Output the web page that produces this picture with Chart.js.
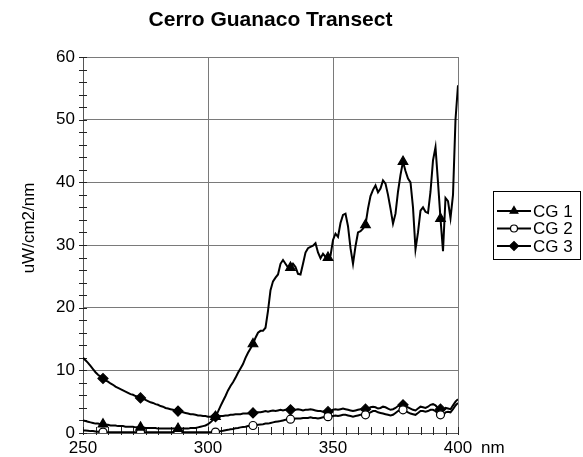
<!DOCTYPE html>
<html>
<head>
<meta charset="utf-8">
<script src="https://cdn.jsdelivr.net/npm/chart.js@4.4.0/dist/chart.umd.min.js"></script>
<style>
  html, body { margin: 0; padding: 0; background: #fff; }
  #wrap { width: 583px; height: 457px; }
</style>
</head>
<body>
<div id="wrap"><canvas id="c" width="583" height="457"></canvas></div>
<script>
// Cerro Guanaco Transect — irradiancia espectral, uW/cm2/nm, 250..400 nm cada 1 nm
const wavelengths = Array.from({ length: 151 }, (_, i) => 250 + i);

const cg1 = [
  2.0, 1.9, 1.8, 1.7, 1.6, 1.5, 1.5, 1.4, 1.4, 1.3,
  1.3, 1.2, 1.2, 1.2, 1.1, 1.1, 1.1, 1.0, 1.0, 1.0,
  1.0, 0.9, 0.9, 0.9, 0.9, 0.8, 0.8, 0.8, 0.8, 0.8,
  0.7, 0.7, 0.7, 0.7, 0.7, 0.7, 0.7, 0.7, 0.7, 0.7,
  0.7, 0.7, 0.7, 0.8, 0.8, 0.8, 0.9, 1.0, 1.1, 1.2,
  1.4, 1.7, 2.1, 2.6, 3.4, 4.3, 5.1, 5.9, 6.8, 7.5,
  8.1, 8.8, 9.6, 10.3, 11.0, 12.0, 12.8, 13.5, 14.2, 15.2,
  16.0, 16.3, 16.3, 16.8, 19.5, 22.8, 24.2, 24.8, 25.3, 27.0,
  27.6, 27.0, 26.4, 26.4, 27.0, 26.5, 25.4, 25.3, 27.0, 28.8,
  29.5, 29.7, 29.9, 30.3, 28.8, 27.9, 28.6, 28.1, 28.0, 28.3,
  30.8, 31.8, 31.3, 33.5, 34.8, 35.0, 33.0, 29.5, 27.0, 29.8,
  32.0, 32.2, 32.6, 33.2, 35.8, 37.8, 38.8, 39.5, 38.4, 39.0,
  40.3, 39.8, 38.0, 35.8, 33.4, 35.0, 38.5, 41.2, 43.3, 41.8,
  40.6, 40.0, 36.0, 29.3, 32.0, 35.5, 36.0, 35.3, 35.1, 38.5,
  43.5, 45.6, 40.0, 34.2, 29.0, 37.5, 37.0, 34.3, 38.0, 50.0,
  55.5
];

const cg2 = [
  0.4, 0.4, 0.35, 0.3, 0.3, 0.25, 0.2, 0.2, 0.15, 0.15,
  0.1, 0.1, 0.1, 0.1, 0.1, 0.1, 0.1, 0.1, 0.1, 0.1,
  0.1, 0.1, 0.1, 0.1, 0.1, 0.1, 0.1, 0.1, 0.1, 0.1,
  0.1, 0.1, 0.1, 0.1, 0.1, 0.1, 0.1, 0.1, 0.1, 0.1,
  0.1, 0.1, 0.1, 0.1, 0.1, 0.1, 0.1, 0.1, 0.1, 0.1,
  0.1, 0.1, 0.1, 0.15, 0.2, 0.3, 0.35, 0.45, 0.5, 0.6,
  0.65, 0.75, 0.8, 0.9, 0.95, 1.0, 1.1, 1.15, 1.2, 1.25,
  1.3, 1.35, 1.4, 1.5, 1.5, 1.6, 1.7, 1.8, 1.85, 1.9,
  2.0, 2.1, 2.15, 2.2, 2.2, 2.3, 2.3, 2.3, 2.4, 2.4,
  2.4, 2.5, 2.4, 2.4, 2.3, 2.4, 2.5, 2.5, 2.6, 2.6,
  2.7, 2.8, 2.7, 2.8, 2.9, 2.9, 2.8, 2.7, 2.6, 2.7,
  2.8, 2.9, 2.9, 2.9, 3.1, 3.3, 3.5, 3.5, 3.3, 3.2,
  3.1, 3.0, 2.9, 2.8, 2.9, 3.2, 3.5, 3.7, 3.7, 3.5,
  3.3, 3.1, 3.0, 2.9, 3.2, 3.5, 3.5, 3.4, 3.5, 3.7,
  3.7, 3.5, 3.1, 2.9, 2.8, 3.3, 3.4, 3.3, 3.8, 4.4,
  4.8
];

const cg3 = [
  12.0, 11.6, 11.2, 10.7, 10.2, 9.7, 9.3, 9.0, 8.7, 8.4,
  8.2, 7.9, 7.7, 7.4, 7.2, 7.0, 6.8, 6.6, 6.4, 6.2,
  6.1, 5.9, 5.8, 5.6, 5.5, 5.3, 5.1, 4.9, 4.8, 4.6,
  4.5, 4.3, 4.2, 4.0, 3.9, 3.8, 3.7, 3.6, 3.5, 3.4,
  3.3, 3.2, 3.1, 3.0, 3.0, 2.9, 2.8, 2.8, 2.7, 2.7,
  2.6, 2.6, 2.6, 2.6, 2.6, 2.7, 2.7, 2.8, 2.8, 2.9,
  2.9, 3.0, 3.0, 3.0, 3.1, 3.1, 3.1, 3.2, 3.2, 3.3,
  3.3, 3.3, 3.4, 3.5, 3.4, 3.5, 3.6, 3.5, 3.6, 3.7,
  3.6, 3.7, 3.7, 3.7, 3.6, 3.7, 3.8, 3.7, 3.6, 3.7,
  3.7, 3.8, 3.7, 3.6, 3.5, 3.5, 3.4, 3.5, 3.4, 3.5,
  3.7, 3.8, 3.7, 3.8, 3.9, 3.8, 3.7, 3.6, 3.5, 3.6,
  3.7, 3.8, 3.8, 3.8, 3.9, 4.1, 4.2, 4.1, 3.9, 4.0,
  4.2, 4.1, 3.9, 3.7, 3.8, 4.0, 4.3, 4.5, 4.5, 4.3,
  4.1, 3.9, 3.7, 3.6, 3.9, 4.2, 4.1, 4.0, 4.2, 4.5,
  4.6, 4.4, 4.0, 3.8, 3.6, 4.0, 3.9, 3.8, 4.4, 5.0,
  5.4
];

// longitudes de onda donde van los marcadores
const markerWl = [258, 273, 288, 303, 318, 333, 348, 363, 378, 393];
const seriesNames = ['CG 1', 'CG 2', 'CG 3'];
const xTicks = [250, 300, 350, 400];
const yTicks = [0, 10, 20, 30, 40, 50, 60];

const FONT = 'Liberation Sans, Arial, Helvetica, sans-serif';

function toPoints(values) {
  return values.map((v, i) => ({ x: wavelengths[i], y: v }));
}

function markerRadius(r) {
  return (ctx) => (markerWl.includes(wavelengths[ctx.dataIndex]) ? r : 0);
}

function makeSet(label, values, style, fill, r) {
  return {
    label,
    data: toPoints(values),
    borderColor: '#000',
    borderWidth: 2,
    tension: 0,
    pointStyle: style,
    pointRadius: markerRadius(r),
    pointHoverRadius: 0,
    pointBackgroundColor: fill,
    pointBorderColor: '#000',
    pointBorderWidth: 1.2
  };
}

// ---------- decoraciones: título, etiqueta Y, ticks menores, leyenda ----------
const decor = {
  id: 'decor',
  beforeDatasetsDraw(chart) {
    const { ctx, chartArea: a, scales } = chart;
    ctx.save();
    ctx.strokeStyle = '#222';
    ctx.lineWidth = 1;
    ctx.beginPath();
    for (let v = 0; v <= 60; v += 2) {
      const y = Math.round(scales.y.getPixelForValue(v)) + 0.5;
      ctx.moveTo(a.left - 4, y);
      ctx.lineTo(a.left + 4, y);
    }
    for (let w = 250; w <= 400; w += 5) {
      const x = Math.round(scales.x.getPixelForValue(w)) + 0.5;
      ctx.moveTo(x, a.bottom + 2);
      ctx.lineTo(x, a.bottom - 6);
    }
    ctx.stroke();
    ctx.restore();
  },
  afterDraw(chart) {
    const { ctx, chartArea: a } = chart;
    ctx.save();
    ctx.fillStyle = '#000';

    ctx.font = 'bold 21px ' + FONT;
    ctx.textAlign = 'center';
    ctx.textBaseline = 'middle';
    ctx.fillText('Cerro Guanaco Transect', (a.left + a.right) / 2, 20);

    ctx.font = '17px ' + FONT;
    ctx.textAlign = 'left';
    ctx.fillText('nm', 481, 448);

    ctx.save();
    ctx.translate(29, 228);
    ctx.rotate(-Math.PI / 2);
    ctx.textAlign = 'center';
    ctx.fillText('uW/cm2/nm', 0, 0);
    ctx.restore();

    // leyenda
    const bx = 493.5, by = 191.5, bw = 87, bh = 68;
    ctx.strokeStyle = '#000';
    ctx.lineWidth = 1;
    ctx.strokeRect(bx, by, bw, bh);
    chart.data.datasets.forEach((ds, i) => {
      const y = 211 + i * 17.5;
      ctx.strokeStyle = '#000';
      ctx.lineWidth = 2;
      ctx.beginPath();
      ctx.moveTo(497, y);
      ctx.lineTo(531, y);
      ctx.stroke();
      ctx.fillStyle = ds.pointBackgroundColor;
      ctx.lineWidth = 1.2;
      Chart.helpers.drawPoint(ctx, {
        pointStyle: ds.pointStyle,
        radius: ds.pointStyle === 'circle' ? 3.5 : 4.5,
        rotation: 0,
        borderWidth: 1.2
      }, 514, y);
      ctx.fillStyle = '#000';
      ctx.textAlign = 'left';
      ctx.textBaseline = 'middle';
      ctx.font = '17px ' + FONT;
      ctx.fillText(seriesNames[i], 533, y + 1);
    });
    ctx.restore();
  }
};

new Chart(document.getElementById('c'), {
  type: 'line',
  data: {
    datasets: [
      makeSet(seriesNames[0], cg1, 'triangle', '#000', 5.5),
      makeSet(seriesNames[1], cg2, 'circle', '#fff', 4),
      makeSet(seriesNames[2], cg3, 'rectRot', '#000', 5)
    ]
  },
  options: {
    responsive: false,
    animation: false,
    devicePixelRatio: 1,
    layout: { padding: { left: 0, right: 125, top: 57, bottom: 0 } },
    plugins: {
      legend: { display: false },
      title: { display: false },
      tooltip: { enabled: false }
    },
    scales: {
      x: {
        type: 'linear',
        min: 250,
        max: 400,
        afterBuildTicks: (s) => { s.ticks = xTicks.map((v) => ({ value: v })); },
        afterFit: (s) => { s.height = 24; },
        ticks: {
          color: '#000',
          font: { family: FONT, size: 17 },
          padding: 5,
          maxRotation: 0
        },
        grid: { color: '#7a7a7a', lineWidth: 1, drawTicks: false },
        border: { color: '#555', width: 1 }
      },
      y: {
        min: 0,
        max: 60,
        afterBuildTicks: (s) => { s.ticks = yTicks.map((v) => ({ value: v })); },
        afterFit: (s) => { s.width = 83; },
        ticks: {
          color: '#000',
          font: { family: FONT, size: 17 },
          padding: 8
        },
        grid: { color: '#7a7a7a', lineWidth: 1, drawTicks: false },
        border: { color: '#555', width: 1 }
      }
    }
  },
  plugins: [decor]
});
</script>
</body>
</html>
